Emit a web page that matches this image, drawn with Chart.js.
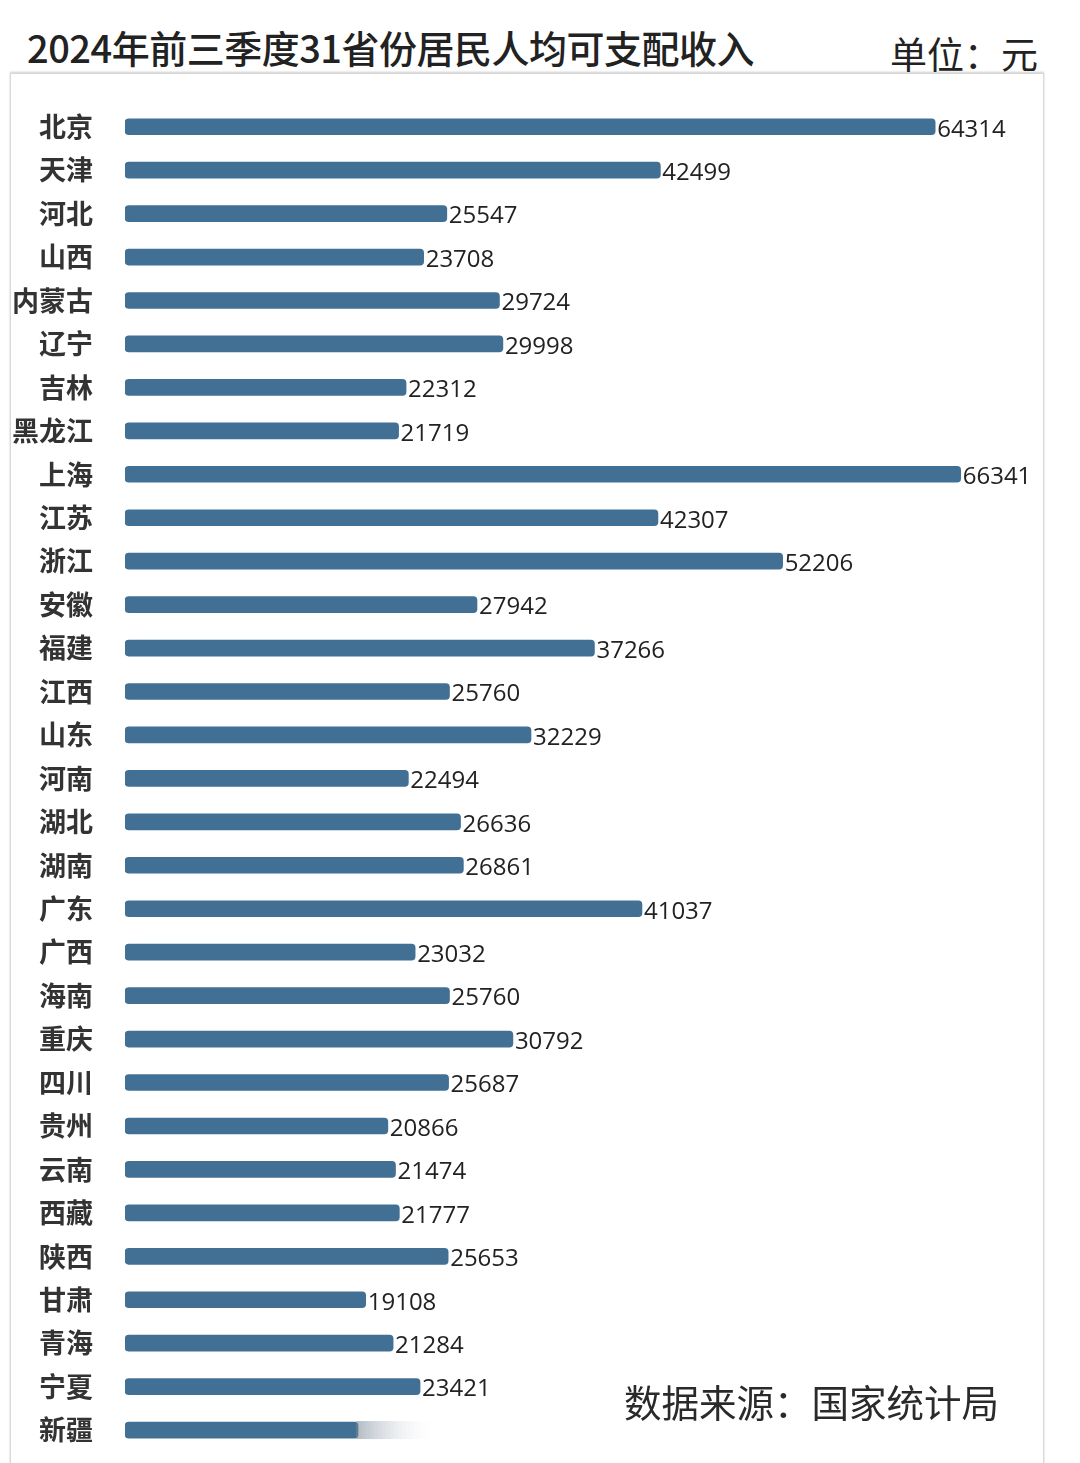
<!DOCTYPE html>
<html>
<head>
<meta charset="utf-8">
<script src="https://cdn.jsdelivr.net/npm/chart.js@4"></script>
<style>
  body { margin: 0; background: #fff; width: 1080px; height: 1463px; overflow: hidden; position: relative; font-family: "Noto Sans CJK SC", sans-serif; }
  #title { position: absolute; left: 27px; top: 19px; font-size: 38px; font-weight: 500; color: #222; letter-spacing: -0.5px; }
  #unit { position: absolute; left: 890px; top: 26px; font-size: 37px; color: #222; }
  #box { position: absolute; left: 10px; top: 73px; width: 1032px; height: 1400px; border: 1px solid #d8d8d8; box-shadow: 0 -1px 2px #ccc; }
  #source { position: absolute; left: 624px; top: 1373px; font-size: 37.5px; color: #2a2a2a; }
  #wrap { position: absolute; left: 0; top: 0; width: 1080px; height: 1463px; overflow: hidden; }
</style>
</head>
<body>
<div id="box"></div>
<div id="title">2024年前三季度31省份居民人均可支配收入</div>
<div id="unit">单位：元</div>
<div id="wrap"><canvas id="graph" width="1080" height="1492"></canvas></div>
<div id="source">数据来源：国家统计局</div>
<script>
var provinces = ["北京","天津","河北","山西","内蒙古","辽宁","吉林","黑龙江","上海","江苏","浙江","安徽","福建","江西","山东","河南","湖北","湖南","广东","广西","海南","重庆","四川","贵州","云南","西藏","陕西","甘肃","青海","宁夏","新疆"]
var income = [64314,42499,25547,23708,29724,29998,22312,21719,66341,42307,52206,27942,37266,25760,32229,22494,26636,26861,41037,23032,25760,30792,25687,20866,21474,21777,25653,19108,21284,23421,18500]
// 新疆 value is cut off in the picture, bar fades out
var hideValue = ["新疆"]

var barColor = "rgb(66,112,148)"

var valueLabels = {
  id: "valueLabels",
  afterDatasetsDraw(chart) {
    var ctx = chart.ctx
    var meta = chart.getDatasetMeta(0)
    ctx.save()
    ctx.font = "500 24px 'Open Sans', 'Noto Sans', sans-serif"
    ctx.fillStyle = "#222"
    ctx.textBaseline = "middle"
    meta.data.forEach(function(bar, i) {
      if (hideValue.indexOf(provinces[i]) >= 0) {
        var g = ctx.createLinearGradient(bar.x, 0, bar.x + 80, 0)
        g.addColorStop(0, "rgba(120,135,150,0.55)")
        g.addColorStop(1, "rgba(255,255,255,0)")
        ctx.fillStyle = g
        ctx.fillRect(bar.x - 2, bar.y - 9, 82, 18)
        ctx.fillStyle = "#222"
        return
      }
      ctx.fillText(income[i], bar.x + 2, bar.y + 3)
    })
    ctx.restore()
  }
}

new Chart(document.getElementById("graph"), {
  type: "bar",
  data: {
    labels: provinces,
    datasets: [{
      data: income,
      backgroundColor: barColor,
      barThickness: 16,
      borderRadius: 4,
      borderSkipped: false
    }]
  },
  options: {
    indexAxis: "y",
    responsive: false,
    animation: false,
    devicePixelRatio: 1,
    layout: { padding: { top: 105, bottom: 11, left: 0, right: 48 } },
    plugins: { legend: { display: false }, tooltip: { enabled: false } },
    scales: {
      x: {
        min: 0, max: 72000,
        display: false,
        grid: { display: false }
      },
      y: {
        grid: { display: false },
        border: { display: false },
        afterFit: function(scale) { scale.width = 125 },
        ticks: {
          padding: 24,
          color: "#333",
          font: { family: "'Noto Sans CJK SC'", size: 27, weight: "bold" }
        }
      }
    }
  },
  plugins: [valueLabels]
})
</script>
</body>
</html>
